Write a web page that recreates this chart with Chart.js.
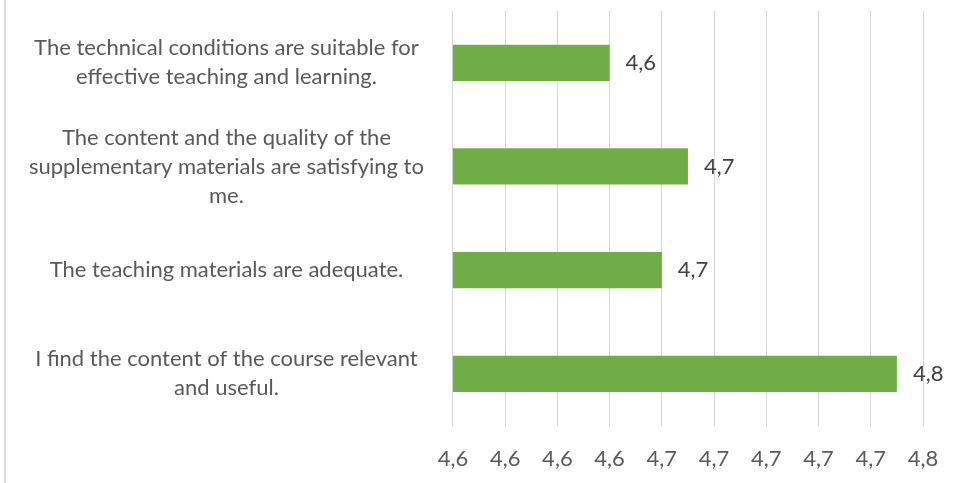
<!DOCTYPE html>
<html>
<head>
<meta charset="utf-8">
<script src="https://cdn.jsdelivr.net/npm/chart.js@4/dist/chart.umd.min.js"></script>
<style>
  html, body { margin: 0; padding: 0; background: #fff; }
  #wrap { position: relative; width: 963px; height: 483px; }
  #frame { position: absolute; left: 4px; top: 0; width: 2px; height: 483px; background: #d9d9d9; }
</style>
</head>
<body>
<div id="wrap">
  <canvas id="chart" width="963" height="483"></canvas>
  <div id="frame"></div>
</div>
<script>
// Categories, top to bottom
const categories = [
  ["The technical conditions are suitable for", "effective teaching and learning."],
  ["The content and the quality of the", "supplementary materials are satisfying to", "me."],
  ["The teaching materials are adequate."],
  ["I find the content of the course relevant", "and useful."],
];
const scores = [4.64, 4.67, 4.66, 4.75];

// x axis range as shown (ticks every 0.02, labelled with one decimal)
const axisMin = 4.58;
const axisMax = 4.76;
const axisStep = 0.02;

const FONT = "Lato, 'Open Sans', sans-serif";

function comma(v) { return Number(v).toFixed(1).replace(".", ","); }

// value labels to the right of each bar
const barLabels = {
  id: "barLabels",
  afterDatasetsDraw(chart) {
    const ctx = chart.ctx;
    const meta = chart.getDatasetMeta(0);
    ctx.save();
    ctx.font = "22px " + FONT;
    ctx.fillStyle = "#404040";
    ctx.textAlign = "left";
    ctx.textBaseline = "middle";
    meta.data.forEach((bar, i) => {
      ctx.fillText(comma(scores[i]), bar.x + 16, bar.y);
    });
    ctx.restore();
  }
};

new Chart(document.getElementById("chart"), {
  type: "bar",
  data: {
    labels: categories,
    datasets: [{
      data: scores,
      backgroundColor: "#70ad47",
      borderWidth: 0,
      categoryPercentage: 1,
      barPercentage: 0.35,
    }]
  },
  options: {
    indexAxis: "y",
    responsive: false,
    animation: false,
    // x tick padding is counted twice in the axis height, hence the negative bottom
    layout: { padding: { top: 11, right: 40, bottom: -9, left: 0 } },
    plugins: { legend: { display: false }, tooltip: { enabled: false } },
    scales: {
      x: {
        min: axisMin,
        max: axisMax,
        ticks: {
          stepSize: axisStep,
          color: "#595959",
          font: { size: 22, family: FONT },
          padding: 20,
          maxRotation: 0,
          autoSkip: false,
          callback: (v) => comma(v),
        },
        grid: { color: "#d9d9d9", lineWidth: 1, drawTicks: false },
        border: { display: false },
      },
      y: {
        ticks: {
          color: "#595959",
          font: { size: 22, family: FONT, lineHeight: 1.32 },
          crossAlign: "center",
          padding: 29,
          autoSkip: false,
        },
        grid: { display: false, drawTicks: false },
        border: { display: false },
        // multi-line labels would otherwise push the plot area in
        afterFit(scale) { scale.paddingTop = 0; scale.paddingBottom = 0; },
      }
    }
  },
  plugins: [barLabels]
});
</script>
</body>
</html>
